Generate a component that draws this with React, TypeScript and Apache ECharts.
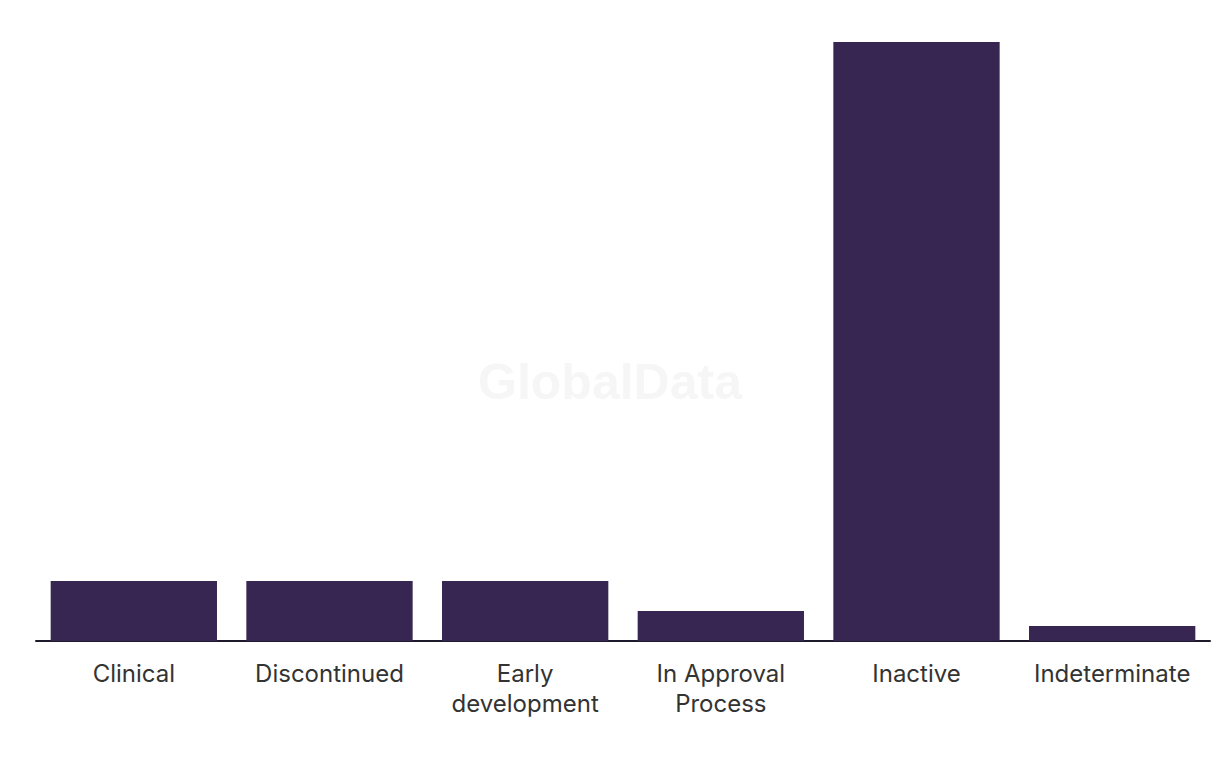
import React, { useEffect, useRef } from "react";
import * as echarts from "echarts";

const categories = ["Clinical", "Discontinued", "Early\ndevelopment", "In Approval\nProcess", "Inactive", "Indeterminate"];
const values = [4, 4, 4, 2, 40, 1];

export default function App() {
  const ref = useRef<HTMLDivElement>(null);
  useEffect(() => {
    if (!ref.current) return;
    const chart = echarts.init(ref.current, null, { renderer: "svg" });
    chart.setOption({
      animation: false,
      graphic: [
        {
          type: "text",
          left: "center",
          top: 357,
          style: {
            text: "GlobalData",
            fontSize: 50,
            fontWeight: "bold",
            fontFamily: "Liberation Sans, Arial, sans-serif",
            fill: "#f6f6f6",
          },
          z: -1,
        },
      ],
      grid: { left: 36, right: 10, top: 42, bottom: 125, containLabel: false },
      xAxis: {
        type: "category",
        data: categories,
        axisLine: { show: true, lineStyle: { color: "#1c1a2b", width: 2 } },
        axisTick: { show: false },
        axisLabel: {
          color: "#333333",
          fontSize: 24,
          lineHeight: 30,
          margin: 17,
          fontFamily: "Inter, Noto Sans, sans-serif",
          interval: 0,
        },
      },
      yAxis: {
        type: "value",
        min: 0,
        max: 40,
        show: false,
        splitLine: { show: false },
      },
      series: [
        {
          type: "bar",
          data: values,
          barCategoryGap: "15%",
          itemStyle: { color: "#372552" },
        },
      ],
    });
    return () => chart.dispose();
  }, []);
  return <div ref={ref} style={{ position: "absolute", left: 0, top: 0, width: 1220, height: 766 }} />;
}
